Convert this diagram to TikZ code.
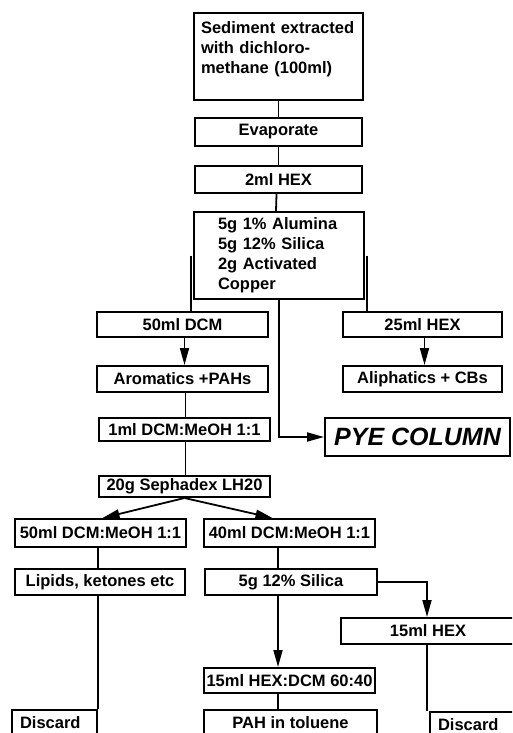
\documentclass[tikz,border=0pt]{standalone}
\usepackage{fontspec}
\setmainfont{Liberation Sans}
\usetikzlibrary{arrows.meta,calc}

\begin{document}
\begin{tikzpicture}[x=1pt, y=-1pt,
  every node/.style={font=\fontsize{16.5}{20}\selectfont\bfseries},
  box/.style={rectangle, draw, line width=2pt, inner sep=2pt, minimum width=171pt, minimum height=26pt, align=center},
  discbox/.style={box, minimum width=85pt, text width=69pt, align=left, minimum height=25pt},
  link/.style={line width=1.8pt},
  flow/.style={line width=1.8pt, -{Triangle[length=17pt, width=9pt]}}]
  \clip (0,0) rectangle (512,733);
  \coordinate (trunk) at (278,0);

  % extraction and clean-up
  \node[box, minimum width=169pt, minimum height=87pt, text width=155pt, align=left] (sed) at (278.5,56.5) {Sediment extracted\\with dichloro-\\methane (100ml)\\[-9pt] \strut};
  \node[box, minimum width=167pt, minimum height=28pt] (evap) at (278.5,132) {Evaporate};
  \node[box, minimum width=167pt, minimum height=27pt] (hex2) at (278.5,179.5) {2ml HEX};
  \node[box, minimum width=170pt, minimum height=87pt, text width=122pt, align=left] (col) at (279,255.5) {5g 1\% Alumina\\5g 12\% Silica\\2g Activated\\Copper};

  % column fractions
  \node[box, minimum height=25pt] (dcm50) at (182.5,324.5) {50ml DCM};
  \node[box, minimum width=159pt, minimum height=25pt] (hex25) at (422.5,324.5) {25ml HEX};
  \node[box] (arom) at (182.5,379) {Aromatics +PAHs};
  \node[box, minimum width=159pt] (aliph) at (422.5,379) {Aliphatics + CBs};
  \node[box, minimum height=23pt] (dcm1) at (184.5,429.5) {1ml DCM:MeOH 1:1};
  \node[box, minimum width=185pt, minimum height=38pt, font=\fontsize{25}{28}\selectfont\bfseries\itshape] (pye) at (417.5,437) {PYE COLUMN};
  \node[box, minimum height=21pt] (seph) at (184.5,486.5) {20g Sephadex LH20};

  % sephadex fractions
  \node[box, minimum height=28pt] (mix50) at (100.5,533) {50ml DCM:MeOH 1:1};
  \node[box, minimum height=28pt] (mix40) at (289.5,533) {40ml DCM:MeOH 1:1};
  \node[box, minimum width=170pt] (lipid) at (100,582) {Lipids, ketones etc};
  \node[box, minimum width=172pt] (sil) at (291,582) {5g 12\% Silica};
  \node[box, minimum width=174pt] (hex15) at (428,631) {15ml HEX};
  \node[box, minimum height=25pt] (hexdcm) at (289.5,680.5) {15ml HEX:DCM 60:40};
  \node[discbox] (discl) at (54.5,722.5) {Discard};
  \node[box, minimum width=173pt, minimum height=25pt] (pah) at (290.5,722.5) {PAH in toluene};
  \node[discbox] (discr) at (472.5,724.5) {Discard};

  \draw[link] (sed.south) -- (evap.north);
  \draw[link] (evap.south) -- (hex2.north);
  \draw[link] ([xshift=-2pt]hex2.south) -- ([xshift=-3pt]col.north);
  \draw[link] ([xshift=-2pt]col.west) -- ([xshift=-2pt]col.west |- dcm50.north);
  \draw[link] ([xshift=2pt]col.east) -- ([xshift=2pt]col.east |- hex25.north);
  \draw[flow] (col.south) |- (pye.west);
  \draw[flow] ([xshift=2pt]dcm50.south) -- ([xshift=2pt]arom.north);
  \draw[flow] ([xshift=2pt]hex25.south) -- ([xshift=2pt]aliph.north);
  \draw[link] ([xshift=3pt]arom.south) -- ([xshift=1pt]dcm1.north);
  \draw[link] ([xshift=1pt]dcm1.south) -- ([xshift=1pt]seph.north);
  \draw[flow] (seph.south) -- ([xshift=2pt]mix50.north);
  \draw[flow] (seph.south) -- ([xshift=-17pt]mix40.north);
  \draw[link] (mix50.south -| discl.north east) -- (lipid.north -| discl.north east);
  \draw[link] (discl.north east |- lipid.south) -- (discl.north east);
  \draw[link] (mix40.south -| trunk) -- (sil.north -| trunk);
  \draw[flow] (sil.south -| trunk) -- (hexdcm.north -| trunk);
  \draw[link] (hexdcm.south -| trunk) -- (pah.north -| trunk);
  \draw[flow] (sil.east) -| ([xshift=-1pt]hex15.north);
  \draw[link] ([xshift=-1pt]hex15.south) -- ([xshift=-1pt]hex15.south |- discr.north);
\end{tikzpicture}
\end{document}
